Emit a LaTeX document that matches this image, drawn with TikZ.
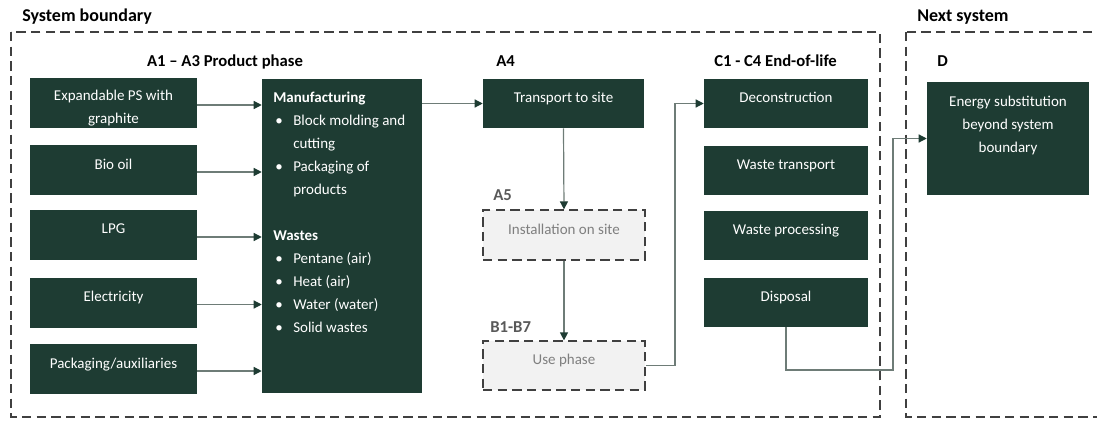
\documentclass[tikz,border=0pt]{standalone}
\usepackage{fontspec}
\setmainfont{Carlito}
\usetikzlibrary{arrows.meta}
\definecolor{dgreen}{HTML}{1E3C33}
\definecolor{lnc}{HTML}{6E7C77}
\definecolor{bord}{HTML}{404040}
\definecolor{lgray}{HTML}{F2F2F2}
\definecolor{gtxt}{HTML}{7F7F7F}
\definecolor{lbl}{HTML}{595959}
\begin{document}
\begin{tikzpicture}[x=0.75pt,y=-0.75pt,
  sz/.style 2 args={minimum width=#1*0.75pt, minimum height=#2*0.75pt},
  gbox/.style={fill=dgreen, text=white, inner sep=0pt, align=center,
    font=\fontsize{11.25}{17.25}\selectfont},
  one/.style={text depth=9pt},
  dbox/.style={fill=lgray, draw=bord, line width=0.9pt, dash pattern=on 7pt off 4pt,
    text=gtxt, inner sep=0pt, font=\fontsize{11.25}{17.25}\selectfont, text depth=9pt},
  bound/.style={draw=bord, line width=0.9pt, dash pattern=on 7pt off 4pt},
  hdr/.style={font=\bfseries\fontsize{12.5}{15}\selectfont, anchor=west, inner sep=0pt},
  big/.style={font=\bfseries\fontsize{13.5}{16}\selectfont, anchor=west, inner sep=0pt},
  wtext/.style={text=white, inner sep=0pt, font=\fontsize{11.25}{17.25}\selectfont},
  arr/.style={draw=lnc, line width=0.9pt, -{Triangle[length=6pt,width=6pt,color=dgreen]}}
]
\useasboundingbox (0,0) rectangle (1097,421);
\clip (0,0) rectangle (1097,421);

% boundaries
\draw[bound] (11,32) rectangle (880,417);
\draw[bound] (906,32) rectangle (1120,417);
\node[big] (sysb) at (22,17) {System boundary};
\node[big] (nsys) at (917,17) {Next system};

% headers
\node[hdr, anchor=center] (hA13) at (225,62) {A1 – A3 Product phase};
\node[hdr] (hA4) at (496,61) {A4};
\node[hdr, text=lbl] (hA5) at (493,195) {A5};
\node[hdr, text=lbl] (hB) at (490,327) {B1-B7};
\node[hdr] (hC) at (714,61) {C1 - C4 End-of-life};
\node[hdr] (hD) at (937,61) {D};

% inputs
\node[gbox, sz={167}{50}] (exp) at (113.5,103) {};
\node[wtext, align=center] (expt) at (113.5,108) {Expandable PS with\\graphite};
\node[gbox, one, sz={167}{50}] (bio) at (113.5,170) {Bio oil};
\node[gbox, one, sz={167}{50}] (lpg) at (113.5,235) {LPG};
\node[gbox, one, sz={167}{50}] (elec) at (113.5,302.5) {Electricity};
\node[gbox, one, sz={167}{50}] (pack) at (113.5,369) {Packaging/auxiliaries};

% manufacturing
\node[gbox, sz={160}{314}] (man) at (342,236) {};
\node[wtext, anchor=north west, align=left] (mant) at (273,91.5)
 {\textbf{Manufacturing}\\
  \makebox[15pt][l]{\hspace{1.5pt}•}Block molding and\\
  \hspace*{15pt}cutting\\
  \makebox[15pt][l]{\hspace{1.5pt}•}Packaging of\\
  \hspace*{15pt}products\\[17.25pt]
  \textbf{Wastes}\\
  \makebox[15pt][l]{\hspace{1.5pt}•}Pentane (air)\\
  \makebox[15pt][l]{\hspace{1.5pt}•}Heat (air)\\
  \makebox[15pt][l]{\hspace{1.5pt}•}Water (water)\\
  \makebox[15pt][l]{\hspace{1.5pt}•}Solid wastes};

% A4, A5, B
\node[gbox, one, sz={161}{49}] (trans) at (563.5,103.5) {Transport to site};
\node[dbox, sz={162}{50}] (inst) at (564,235) {Installation on site};
\node[dbox, sz={162}{49}] (use) at (564,365.5) {Use phase};

% C
\node[gbox, one, sz={164}{49}] (decon) at (786,103.5) {Deconstruction};
\node[gbox, one, sz={164}{49}] (wtr) at (786,170.5) {Waste transport};
\node[gbox, one, sz={164}{49}] (wpr) at (786,235.5) {Waste processing};
\node[gbox, one, sz={164}{49}] (disp) at (786,302.5) {Disposal};

% D
\node[gbox, sz={162}{113}] (dbx) at (1008,138.5) {};
\node[wtext, align=center] (dtxt) at (1008,125) {Energy substitution\\beyond system\\boundary};

% connectors
\foreach \n in {exp,bio,lpg,elec,pack}
  \draw[arr] ([yshift=-1.5pt]\n.east) -- ([yshift=-1.5pt]\n.east -| man.west);
\draw[arr] (man.north east |- trans.west) -- (trans.west);
\draw[arr] (trans.south) -- (inst.north);
\draw[arr] (inst.south) -- (use.north);
\coordinate (c1) at (675,0);
\draw[arr] (use.east) -- (use.east -| c1) |- (decon.west);
\coordinate (c2) at (893,370);
\draw[arr] (disp.south) |- (c2) |- (dbx.west);
\end{tikzpicture}
\end{document}
